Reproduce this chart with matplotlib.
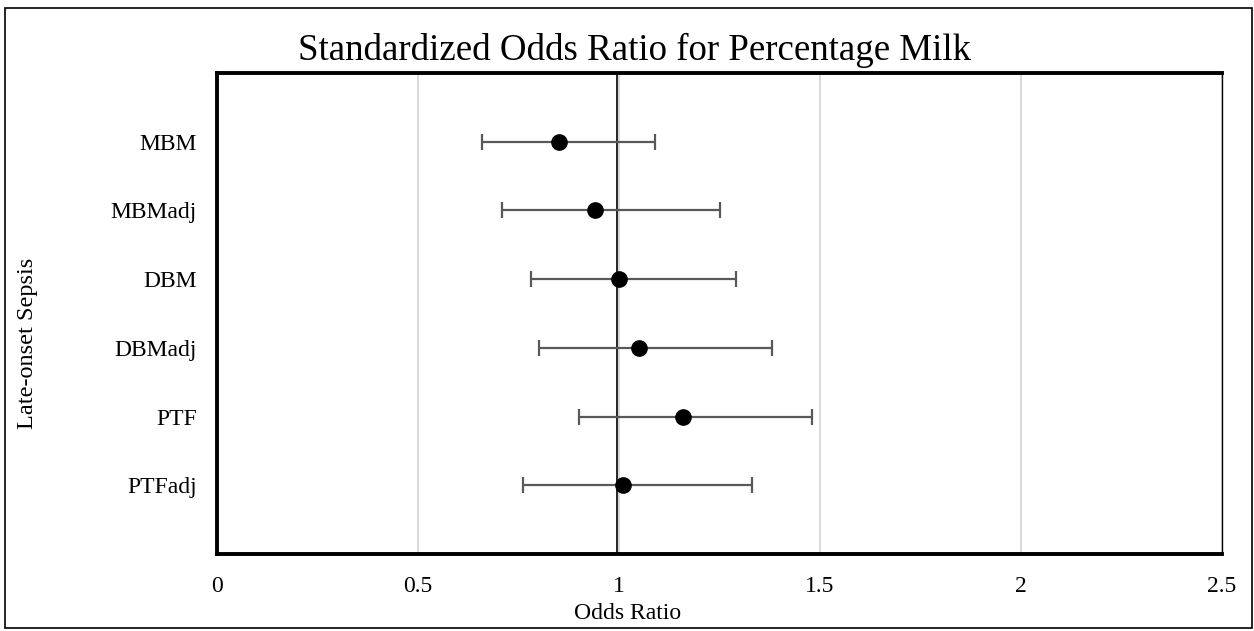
import matplotlib.pyplot as plt
from matplotlib.patches import Rectangle

# Datos del gráfico (odds ratio estandarizado con IC)
grupos = ["MBM", "MBMadj", "DBM", "DBMadj", "PTF", "PTFadj"]
odds_ratio = [0.85, 0.94, 1.00, 1.05, 1.16, 1.01]
ic_inferior = [0.66, 0.71, 0.78, 0.80, 0.90, 0.76]
ic_superior = [1.09, 1.25, 1.29, 1.38, 1.48, 1.33]
linea_ref = 0.995
xticks = [0, 0.5, 1, 1.5, 2, 2.5]
xtick_labels = ["0", "0.5", "1", "1.5", "2", "2.5"]

plt.rcParams['font.family'] = ['Liberation Serif', 'DejaVu Serif']

fig = plt.figure(figsize=(12.54, 6.31), dpi=100)
ax = fig.add_axes([217 / 1254, 1 - 554 / 631, (1222 - 217) / 1254, (554 - 73) / 631])

# posiciones: primer grupo arriba
n = len(grupos)
ypos = [n - i for i in range(n)]
err_low = [o - lo for o, lo in zip(odds_ratio, ic_inferior)]
err_high = [hi - o for o, hi in zip(odds_ratio, ic_superior)]

for x in xticks[1:]:
    ax.axvline(x, color='#d9d9d9', lw=1.4, zorder=0)
ax.axvline(linea_ref, color='black', lw=1.2, zorder=1)

ax.errorbar(odds_ratio, ypos, xerr=[err_low, err_high], fmt='o', color='black',
            markersize=11, ecolor='#595959', elinewidth=1.6, capsize=5.5,
            capthick=1.6, zorder=3)

ax.set_xlim(0, 2.5)
ax.set_ylim(0, n + 1)
ax.set_xticks(xticks)
ax.set_xticklabels(xtick_labels)
ax.set_yticks(ypos)
ax.set_yticklabels(grupos)
ax.tick_params(axis='both', length=0, labelsize=17)
ax.tick_params(axis='y', pad=14.5)
ax.tick_params(axis='x', pad=16)

for lado in ['top', 'left', 'bottom']:
    ax.spines[lado].set_linewidth(2.8)
ax.spines['right'].set_linewidth(1.0)

fig.text(635 / 1254, 1 - 60 / 631, "Standardized Odds Ratio for Percentage Milk",
         fontsize=26.6, ha='center', va='baseline')
fig.text(628 / 1254, 1 - 619 / 631, "Odds Ratio", fontsize=17, ha='center', va='baseline')
fig.text(28 / 1254, 1 - 343 / 631, "Late-onset Sepsis", fontsize=17.5, rotation=90,
         ha='center', va='center')

# marco exterior
fig.patches.append(Rectangle((5 / 1254, 3 / 631), 1247 / 1254, 620 / 631,
                             transform=fig.transFigure, fill=False,
                             edgecolor='black', lw=1.2))

fig.savefig('out.png', dpi=100)
